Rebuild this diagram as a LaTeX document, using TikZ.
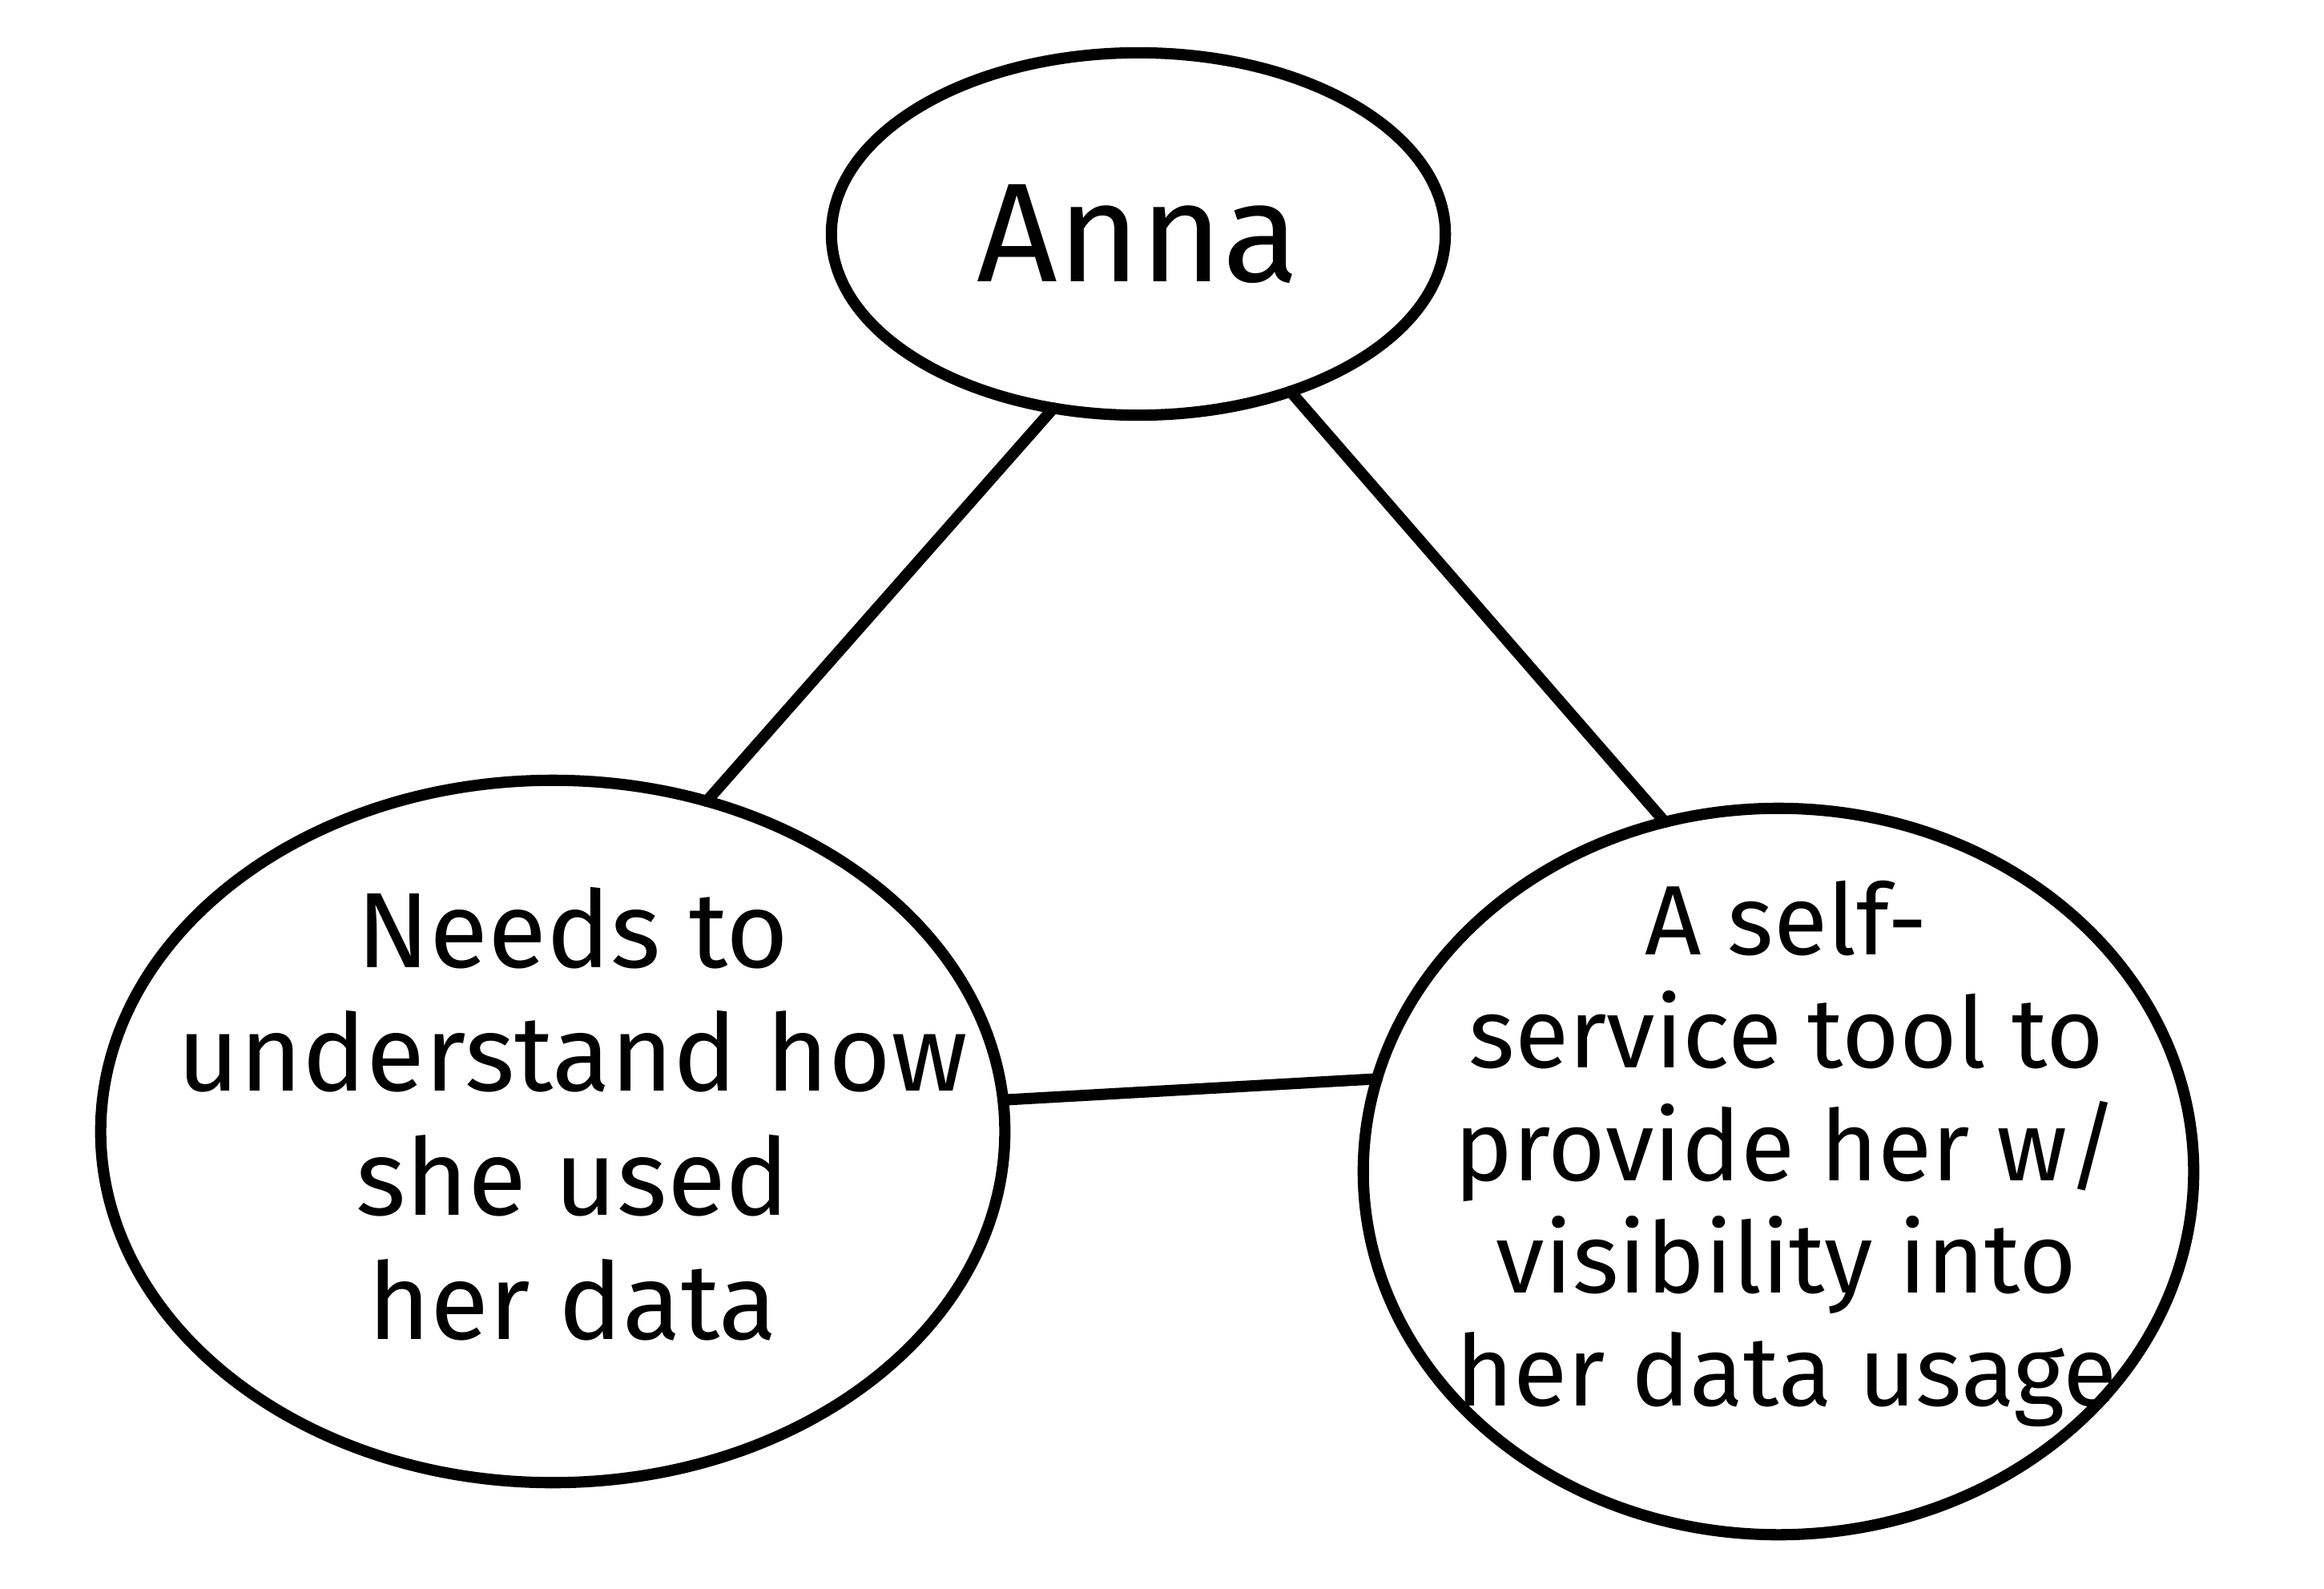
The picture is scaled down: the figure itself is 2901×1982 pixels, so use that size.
\documentclass[tikz,border=0pt]{standalone}
\usepackage{fontspec}
\setmainfont{Fira Sans}
\usetikzlibrary{shapes.geometric}
\begin{document}
\begin{tikzpicture}[x=0.01cm,y=-0.01cm,
  bubble/.style={draw,ellipse,line width=4pt,inner sep=0pt,outer sep=0pt},
  words/.style={align=center,inner sep=0pt},
  link/.style={line width=4pt,line cap=round}]
\useasboundingbox (0,0) rectangle (2901,1982);
\node[bubble,minimum width=7.66cm,minimum height=4.52cm] (anna) at (1421,292) {};
\node[bubble,minimum width=11.28cm,minimum height=8.76cm] (need) at (690,1412) {};
\node[bubble,minimum width=10.36cm,minimum height=9.06cm] (tool) at (2220,1462) {};
\node[words,font=\fontsize{50}{54}\selectfont] (annat) at (1421,292) {Anna};
\node[words,font=\fontsize{38}{44}\selectfont] (needt) at (715,1390) {Needs to\\understand how\\she used\\her data};
\node[words,font=\fontsize{35}{40}\selectfont] (toolt) at (2230,1440) {A self-\\service tool to\\provide her w/\\visibility into\\her data usage};
\draw[link] (anna.-116) -- (need.65);
\draw[link] (anna.-46) -- (tool.108);
\draw[link] (need.4) -- (tool.167);
\end{tikzpicture}
\end{document}
